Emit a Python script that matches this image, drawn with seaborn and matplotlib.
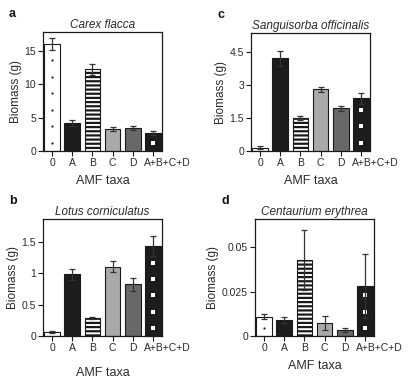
import numpy as np
import pandas as pd
import matplotlib
matplotlib.use("Agg")
import matplotlib.pyplot as plt
import matplotlib.transforms as mtransforms
import seaborn as sns

# taxa on the x axis
taxa = ["0", "A", "B", "C", "D", "A+B+C+D"]

# panel a - Carex flacca
carex_mean = [16.0, 4.2, 12.2, 3.3, 3.5, 2.7]
carex_err = [0.9, 0.5, 0.8, 0.35, 0.3, 0.35]
# panel b - Lotus corniculatus
lotus_mean = [0.07, 0.98, 0.29, 1.10, 0.82, 1.43]
lotus_err = [0.015, 0.09, 0.02, 0.09, 0.10, 0.16]
# panel c - Sanguisorba officinalis
sangui_mean = [0.15, 4.22, 1.50, 2.80, 1.95, 2.40]
sangui_err = [0.06, 0.35, 0.10, 0.10, 0.12, 0.25]
# panel d - Centaurium erythrea
centa_mean = [0.011, 0.009, 0.043, 0.0075, 0.0035, 0.028]
centa_err = [0.0015, 0.0015, 0.017, 0.004, 0.001, 0.018]

bar_colors = ["white", "#1c1c1c", "white", "#a9a9a9", "#686868", "#1c1c1c"]
bar_hatches = ["", "", "----", "", "", ""]

sns.set_style("ticks")
plt.rcParams["font.family"] = ["Liberation Sans", "DejaVu Sans"]
plt.rcParams["hatch.linewidth"] = 1.6
txt = "#2a2a2a"

fig = plt.figure(figsize=(4.16, 3.83), dpi=100)
W, H = 416, 383


def make_axes(x0, y0, x1, y1):
    return fig.add_axes([x0 / W, 1 - y1 / H, (x1 - x0) / W, (y1 - y0) / H])


panels = [
    ("a", "Carex flacca", carex_mean, carex_err, (43, 32, 162, 151),
     17.8, [0, 5, 10, 15], ["0", "5", "10", "15"], 5),
    ("c", "Sanguisorba officinalis", sangui_mean, sangui_err, (251, 33, 370, 151),
     5.37, [0, 1.5, 3, 4.5], ["0", "1.5", "3", "4.5"], 5),
    ("b", "Lotus corniculatus", lotus_mean, lotus_err, (43, 219, 162, 336),
     1.86, [0, 0.5, 1, 1.5], ["0", "0.5", "1", "1.5"], 10),
    ("d", "Centaurium erythrea", centa_mean, centa_err, (255, 219, 374, 336),
     0.066, [0, 0.025, 0.05], ["0", "0.025", "0.05"], 5),
]

for letter, title, means, errs, box, ymax, yt, ytl, xpad in panels:
    ax = make_axes(*box)
    df = pd.DataFrame({"taxa": taxa, "biomass": means})
    sns.barplot(data=df, x="taxa", y="biomass", ax=ax, width=0.78,
                color="white", errorbar=None, saturation=1)
    for p, c, h in zip(ax.patches, bar_colors, bar_hatches):
        p.set_facecolor(c)
        p.set_hatch(h)
        p.set_linewidth(0.8)
        p.set_edgecolor("#1a1a1a")
    # fill pattern: small dots in the control bar, white squares in the mix bar
    step = ymax / 7.2
    y0 = np.arange(step / 2, means[0], step)
    ax.scatter(np.zeros_like(y0), y0, s=2.5, marker="o", color="#1a1a1a",
               linewidths=0, zorder=3)
    y5 = np.arange(step / 2, means[5] - step / 4, step)
    ax.scatter(np.full_like(y5, 5), y5, s=7, marker="s", color="white",
               linewidths=0, zorder=3)
    ax.errorbar(range(len(taxa)), means, yerr=errs, fmt="none", ecolor="#333333",
                elinewidth=0.9, capsize=2.5, capthick=0.9, zorder=4)
    ax.set_xlim(-0.45, 5.45)
    ax.set_ylim(0, ymax)
    ax.set_yticks(yt)
    ax.set_yticklabels(ytl)
    for s in ax.spines.values():
        s.set_visible(True)
        s.set_linewidth(0.9)
        s.set_color("#1a1a1a")
    ax.tick_params(axis="both", labelsize=7.5, length=3.5, width=0.8,
                   colors="#1a1a1a", labelcolor=txt, pad=1.5)
    # last tick label sits shifted to the right as in the original figure
    last = ax.get_xticklabels()[-1]
    last.set_transform(last.get_transform() +
                       mtransforms.ScaledTranslation(14 / 100, 0, fig.dpi_scale_trans))
    ax.set_xlabel("AMF taxa", fontsize=9, color=txt, labelpad=xpad)
    ax.set_ylabel("Biomass (g)", fontsize=8.5, color=txt, labelpad=2)
    ax.set_title(title, fontsize=8.5, style="italic", color=txt, pad=3)
    fig.text((box[0] - 34) / W, 1 - (box[1] - 18) / H, letter, fontsize=9,
             fontweight="bold", color="#111111", va="center")

fig.savefig("out.png", dpi=100)
